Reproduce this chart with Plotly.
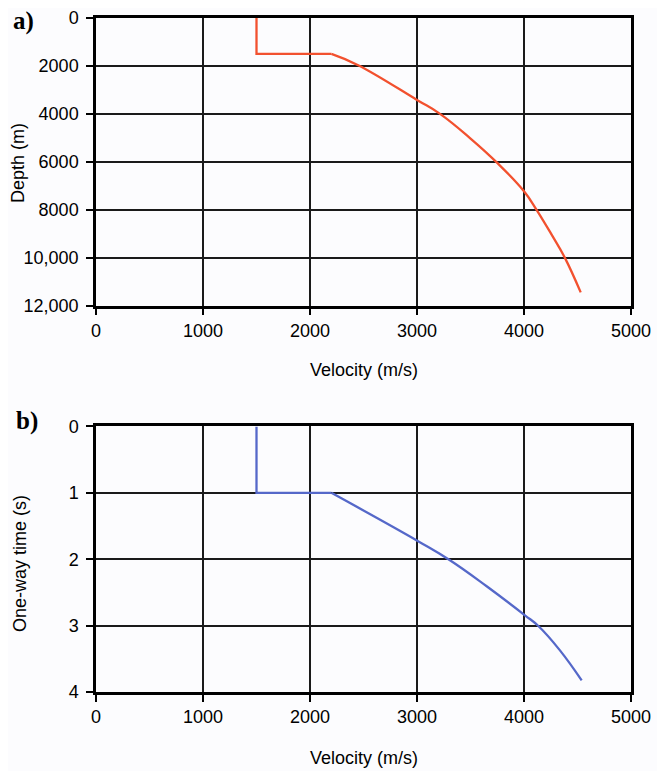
import plotly.graph_objects as go

# Panel a) velocity vs depth
vel_a = [1500, 1500, 2200, 2450, 3000, 3215, 3495, 3745, 4000, 4119, 4265, 4380, 4530]
depth_a = [0, 1500, 1500, 1970, 3420, 4000, 5010, 6025, 7230, 8015, 9095, 9990, 11450]

# Panel b) velocity vs one-way time
vel_b = [1500, 1500, 2200, 3010, 3308, 3651, 4009, 4134, 4336, 4539]
time_b = [0, 1.0, 1.0, 1.728, 2.015, 2.407, 2.845, 3.006, 3.373, 3.825]

x_ticks = [0, 1000, 2000, 3000, 4000, 5000]
x_ticktext = ["0", "1000", "2000", "3000", "4000", "5000"]
depth_ticks = [0, 2000, 4000, 6000, 8000, 10000, 12000]
depth_ticktext = ["0", "2000", "4000", "6000", "8000", "10,000", "12,000"]
time_ticks = [0, 1, 2, 3, 4]
time_ticktext = ["0", "1", "2", "3", "4"]

FONT = "Liberation Sans, Arial, sans-serif"
RED = "#F2512F"
BLUE = "#5568C9"
BG = "#FCFCFE"

fig = go.Figure()
# step part (water layer) drawn straight, deeper gradient part smoothed
fig.add_trace(go.Scatter(x=vel_a[:3], y=depth_a[:3], mode="lines",
                         line=dict(color=RED, width=2.3), xaxis="x", yaxis="y",
                         showlegend=False))
fig.add_trace(go.Scatter(x=vel_a[2:], y=depth_a[2:], mode="lines",
                         line=dict(color=RED, width=2.3, shape="spline", smoothing=1.2),
                         xaxis="x", yaxis="y", showlegend=False))
fig.add_trace(go.Scatter(x=vel_b[:3], y=time_b[:3], mode="lines",
                         line=dict(color=BLUE, width=2.3), xaxis="x2", yaxis="y2",
                         showlegend=False))
fig.add_trace(go.Scatter(x=vel_b[2:], y=time_b[2:], mode="lines",
                         line=dict(color=BLUE, width=2.3, shape="spline", smoothing=1.2),
                         xaxis="x2", yaxis="y2", showlegend=False))

axis_common = dict(showline=True, mirror=True, linecolor="black", linewidth=2.5,
                   showgrid=True, gridcolor="#1a1a1a", gridwidth=1.5,
                   ticks="outside", ticklen=7, tickwidth=1.5, tickcolor="black",
                   zeroline=False, automargin=False,
                   tickfont=dict(family=FONT, size=18, color="black"))

fig.update_layout(
    width=657, height=763,
    margin=dict(l=88, r=34, t=10, b=79, autoexpand=False),
    paper_bgcolor=BG, plot_bgcolor=BG,
    xaxis=dict(domain=[0, 1], anchor="y", range=[0, 5000], tickvals=x_ticks,
               ticktext=x_ticktext, **axis_common),
    yaxis=dict(domain=[0.5734, 1], anchor="x", range=[12000, 0], tickvals=depth_ticks,
               ticktext=depth_ticktext, ticklabelstandoff=4, **axis_common),
    xaxis2=dict(domain=[0, 1], anchor="y2", range=[0, 5000], tickvals=x_ticks,
                ticktext=x_ticktext, **axis_common),
    yaxis2=dict(domain=[0, 0.394], anchor="x2", range=[4, 0], tickvals=time_ticks,
                ticktext=time_ticktext, ticklabelstandoff=4, **axis_common),
)

ann_font = dict(family=FONT, size=18, color="black")
annotations = [
    dict(text="Velocity (m/s)", x=0.5, y=0.4777, xref="paper", yref="paper",
         xanchor="center", yanchor="middle", showarrow=False, font=ann_font),
    dict(text="Velocity (m/s)", x=0.5, y=-0.0972, xref="paper", yref="paper",
         xanchor="center", yanchor="middle", showarrow=False, font=ann_font),
    dict(text="Depth (m)", x=-0.1458, y=0.7849, xref="paper", yref="paper",
         xanchor="center", yanchor="middle", textangle=-90, showarrow=False, font=ann_font),
    dict(text="One-way time (s)", x=-0.1421, y=0.1914, xref="paper", yref="paper",
         xanchor="center", yanchor="middle", textangle=-90, showarrow=False, font=ann_font),
    dict(text="<b>a)</b>", x=-0.1346, y=0.9955, xref="paper", yref="paper",
         xanchor="center", yanchor="middle", showarrow=False,
         font=dict(family="Liberation Serif, Times New Roman, serif", size=25, color="black")),
    dict(text="<b>b)</b>", x=-0.129, y=0.402, xref="paper", yref="paper",
         xanchor="center", yanchor="middle", showarrow=False,
         font=dict(family="Liberation Serif, Times New Roman, serif", size=25, color="black")),
]
fig.update_layout(annotations=annotations)

fig.write_html("out.html")
